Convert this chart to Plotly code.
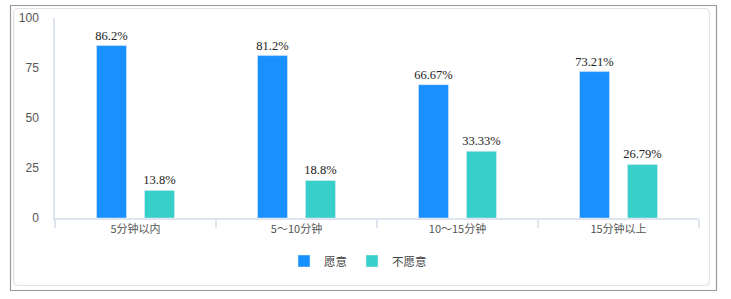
import plotly.graph_objects as go

categories = ["5分钟以内", "5～10分钟", "10～15分钟", "15分钟以上"]
willing = [86.2, 81.2, 66.67, 73.21]
unwilling = [13.8, 18.8, 33.33, 26.79]
willing_labels = ["86.2%", "81.2%", "66.67%", "73.21%"]
unwilling_labels = ["13.8%", "18.8%", "33.33%", "26.79%"]
series_names = ["愿意", "不愿意"]
y_ticks = [0, 25, 50, 75, 100]

W, H = 731, 299
L, R, T, B = 55, 32, 18, 81
pw, ph = W - L - R, H - T - B

def px(x):
    return (x - L) / pw

def py(y):
    return (H - B - y) / ph

label_font = dict(family="Liberation Serif, Times New Roman, serif", size=12.5, color="#222")

fig = go.Figure()
fig.add_trace(go.Bar(x=categories, y=willing, name=series_names[0], marker_color="#1890FF",
                     text=willing_labels, textposition="outside", textfont=label_font,
                     constraintext="none", cliponaxis=False))
fig.add_trace(go.Bar(x=categories, y=unwilling, name=series_names[1], marker_color="#36CFC9",
                     text=unwilling_labels, textposition="outside", textfont=label_font,
                     constraintext="none", cliponaxis=False))

def rounded(x0, y0, x1, y1, r):
    p = lambda x, y: f"{px(x):.5f},{py(y):.5f}"
    return (f"M{p(x0+r,y0)} L{p(x1-r,y0)} Q{p(x1,y0)} {p(x1,y0+r)} L{p(x1,y1-r)} "
            f"Q{p(x1,y1)} {p(x1-r,y1)} L{p(x0+r,y1)} Q{p(x0,y1)} {p(x0,y1-r)} "
            f"L{p(x0,y0+r)} Q{p(x0,y0)} {p(x0+r,y0)} Z")

shapes = [
    dict(type="rect", xref="paper", yref="paper", x0=px(10.5), x1=px(716.5), y0=py(290.5), y1=py(5.5),
         line=dict(color="#9a9a9a", width=1.2), layer="below"),
    dict(type="path", xref="paper", yref="paper", path=rounded(13.5, 8.5, 709.5, 285.5, 5),
         line=dict(color="#e2e2e2", width=1.2), layer="below"),
]

fig.update_layout(
    width=W, height=H,
    margin=dict(l=L, r=R, t=T, b=B),
    paper_bgcolor="white", plot_bgcolor="white",
    barmode="group", bargap=0.404, bargroupgap=0.375,
    font=dict(family="Noto Sans CJK SC, Noto Sans, sans-serif", size=11, color="#555"),
    showlegend=True,
    legend=dict(orientation="h", x=px(358), xanchor="center", y=py(261), yanchor="middle",
                font=dict(size=11.5, color="#444"), itemwidth=30, traceorder="normal"),
    shapes=shapes,
)
fig.update_xaxes(showline=True, linecolor="#dfe5ee", linewidth=1.5, ticks="outside",
                 tickson="boundaries", ticklen=8, tickcolor="#dfe5ee", tickwidth=1.5,
                 showgrid=False, tickfont=dict(size=11, color="#555"))
fig.update_yaxes(range=[0, 100], tickvals=y_ticks, showgrid=False, zeroline=False,
                 showline=True, linecolor="#dfe5ee", linewidth=1.5, ticks="",
                 ticklabelstandoff=12,
                 tickfont=dict(family="Liberation Sans, Arial, sans-serif", size=12, color="#555"))

fig.write_html("out.html")
